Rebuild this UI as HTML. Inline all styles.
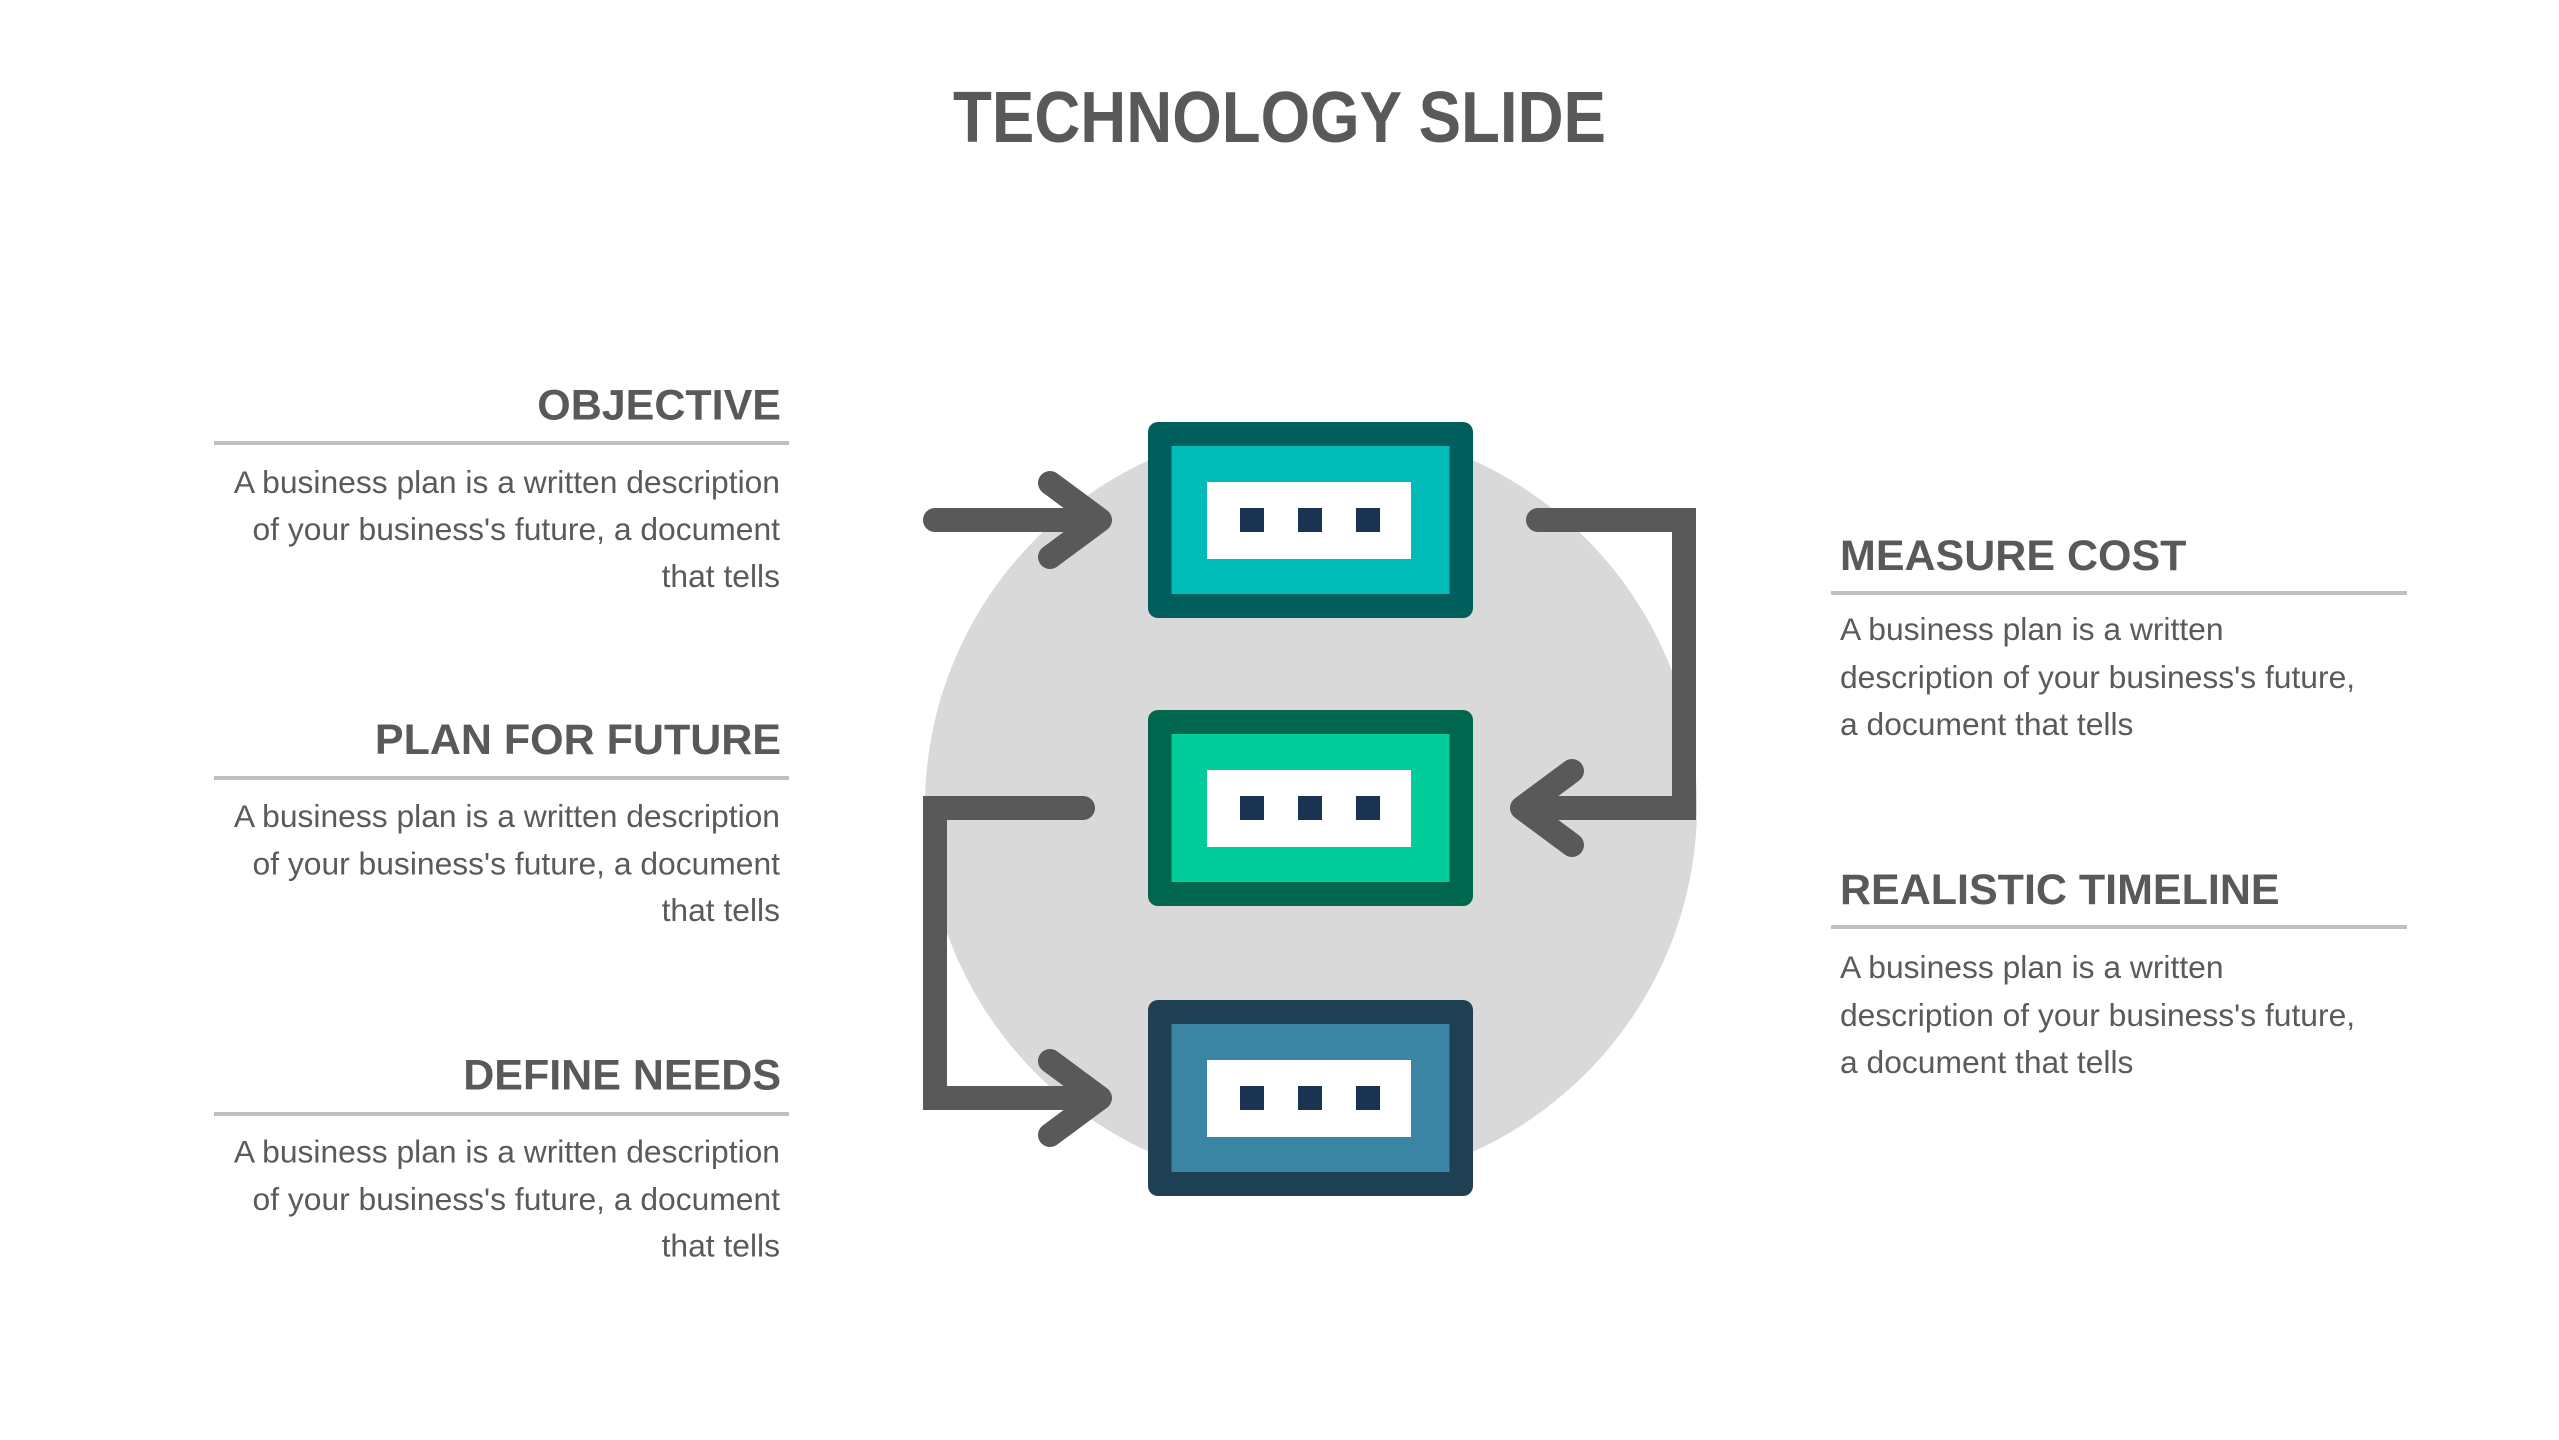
<!DOCTYPE html>
<html>
<head>
<meta charset="utf-8">
<style>
  html, body { margin: 0; padding: 0; background: #ffffff; }
  body { width: 2559px; height: 1440px; overflow: hidden; }
  svg { display: block; }
  .h { font-family: "Liberation Sans", Arial, sans-serif; font-weight: bold; font-size: 43px; fill: #595959; }
  .b { font-family: "Liberation Sans", Arial, sans-serif; font-size: 31.8px; fill: #5a5a5a; }
  .t { font-family: "Liberation Sans", Arial, sans-serif; font-weight: bold; font-size: 72px; fill: #595959; }
</style>
</head>
<body>
<svg width="2559" height="1440" viewBox="0 0 2559 1440" xmlns="http://www.w3.org/2000/svg">
  <rect x="0" y="0" width="2559" height="1440" fill="#ffffff"/>

  <!-- Title -->
  <text class="t" x="953" y="142" textLength="653" lengthAdjust="spacingAndGlyphs">TECHNOLOGY SLIDE</text>

  <!-- Background circle -->
  <ellipse cx="1311" cy="806" rx="386" ry="381" fill="#d9d9d9"/>

  <!-- Connectors -->
  <g fill="none" stroke="#595959" stroke-width="24">
    <!-- arrow 1 -->
    <line x1="935" y1="520" x2="1098" y2="520" stroke-linecap="round"/>
    <polyline points="1050,483 1100,520 1050,557" stroke-linecap="round" stroke-linejoin="round"/>
    <!-- right connector -->
    <polyline points="1538,520 1684,520 1684,808 1524,808" stroke-linecap="round" stroke-linejoin="miter"/>
    <polyline points="1572,771 1522,808 1572,845" stroke-linecap="round" stroke-linejoin="round"/>
    <!-- left connector -->
    <polyline points="1083,808 935,808 935,1098 1098,1098" stroke-linecap="round" stroke-linejoin="miter"/>
    <polyline points="1050,1061 1100,1098 1050,1135" stroke-linecap="round" stroke-linejoin="round"/>
  </g>

  <!-- Box 1 -->
  <g transform="translate(1148,422)">
    <rect x="0" y="0" width="325" height="196" rx="10" fill="#005e5c"/>
    <rect x="23.5" y="24" width="278" height="148" fill="#00bbb8"/>
    <rect x="59" y="60" width="204" height="77" fill="#ffffff"/>
    <rect x="92" y="86" width="24" height="24" fill="#1b3352"/>
    <rect x="150" y="86" width="24" height="24" fill="#1b3352"/>
    <rect x="208" y="86" width="24" height="24" fill="#1b3352"/>
  </g>

  <!-- Box 2 -->
  <g transform="translate(1148,710)">
    <rect x="0" y="0" width="325" height="196" rx="10" fill="#00664e"/>
    <rect x="23.5" y="24" width="278" height="148" fill="#02cc9a"/>
    <rect x="59" y="60" width="204" height="77" fill="#ffffff"/>
    <rect x="92" y="86" width="24" height="24" fill="#1b3352"/>
    <rect x="150" y="86" width="24" height="24" fill="#1b3352"/>
    <rect x="208" y="86" width="24" height="24" fill="#1b3352"/>
  </g>

  <!-- Box 3 -->
  <g transform="translate(1148,1000)">
    <rect x="0" y="0" width="325" height="196" rx="10" fill="#1f4052"/>
    <rect x="23.5" y="24" width="278" height="148" fill="#3a84a4"/>
    <rect x="59" y="60" width="204" height="77" fill="#ffffff"/>
    <rect x="92" y="86" width="24" height="24" fill="#1b3352"/>
    <rect x="150" y="86" width="24" height="24" fill="#1b3352"/>
    <rect x="208" y="86" width="24" height="24" fill="#1b3352"/>
  </g>

  <!-- Underlines -->
  <g stroke="#bfbfbf" stroke-width="4">
    <line x1="214" y1="443" x2="789" y2="443"/>
    <line x1="214" y1="778" x2="789" y2="778"/>
    <line x1="214" y1="1114" x2="789" y2="1114"/>
    <line x1="1831" y1="593" x2="2407" y2="593"/>
    <line x1="1831" y1="927" x2="2407" y2="927"/>
  </g>

  <!-- Left texts -->
  <text class="h" x="781" y="419.5" text-anchor="end">OBJECTIVE</text>
  <text class="b" x="780" y="493" text-anchor="end">A business plan is a written description</text>
  <text class="b" x="780" y="540" text-anchor="end">of your business's future, a document</text>
  <text class="b" x="780" y="587" text-anchor="end">that tells</text>

  <text class="h" x="781" y="754" text-anchor="end">PLAN FOR FUTURE</text>
  <text class="b" x="780" y="827" text-anchor="end">A business plan is a written description</text>
  <text class="b" x="780" y="874.5" text-anchor="end">of your business's future, a document</text>
  <text class="b" x="780" y="921" text-anchor="end">that tells</text>

  <text class="h" x="781" y="1089.5" text-anchor="end">DEFINE NEEDS</text>
  <text class="b" x="780" y="1162.5" text-anchor="end">A business plan is a written description</text>
  <text class="b" x="780" y="1210" text-anchor="end">of your business's future, a document</text>
  <text class="b" x="780" y="1256.5" text-anchor="end">that tells</text>

  <!-- Right texts -->
  <text class="h" x="1840" y="570">MEASURE COST</text>
  <text class="b" x="1840" y="640">A business plan is a written</text>
  <text class="b" x="1840" y="688">description of your business's future,</text>
  <text class="b" x="1840" y="735">a document that tells</text>

  <text class="h" x="1840" y="904">REALISTIC TIMELINE</text>
  <text class="b" x="1840" y="978">A business plan is a written</text>
  <text class="b" x="1840" y="1026">description of your business's future,</text>
  <text class="b" x="1840" y="1073">a document that tells</text>
</svg>
</body>
</html>
